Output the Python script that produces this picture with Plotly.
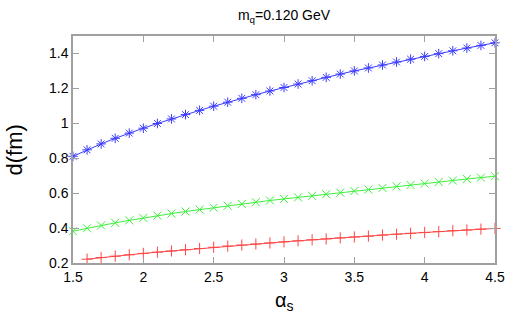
import plotly.graph_objects as go

x_main = [1.5, 1.6, 1.7, 1.8, 1.9, 2.0, 2.1, 2.2, 2.3, 2.4, 2.5, 2.6, 2.7, 2.8, 2.9, 3.0,
          3.1, 3.2, 3.3, 3.4, 3.5, 3.6, 3.7, 3.8, 3.9, 4.0, 4.1, 4.2, 4.3, 4.4, 4.5]
x_red = x_main[1:]

d_blue = [0.811, 0.848, 0.882, 0.914, 0.944, 0.972, 0.999, 1.025, 1.050, 1.074, 1.098,
          1.121, 1.143, 1.164, 1.185, 1.205, 1.225, 1.244, 1.263, 1.282, 1.300,
          1.317, 1.334, 1.351, 1.367, 1.383, 1.399, 1.415, 1.431, 1.446, 1.461]
d_green = [0.382, 0.399, 0.415, 0.430, 0.444, 0.458, 0.471, 0.483, 0.495, 0.506, 0.517,
           0.528, 0.538, 0.548, 0.558, 0.567, 0.576, 0.585, 0.594, 0.603, 0.612,
           0.621, 0.630, 0.639, 0.647, 0.655, 0.664, 0.672, 0.681, 0.689, 0.697]
d_red = [0.222, 0.231, 0.239, 0.247, 0.255, 0.262, 0.269, 0.276, 0.283, 0.290,
         0.297, 0.303, 0.309, 0.315, 0.321, 0.327, 0.333, 0.338, 0.344, 0.349,
         0.354, 0.360, 0.365, 0.370, 0.375, 0.380, 0.385, 0.389, 0.394, 0.398]

x_ticks = [1.5, 2, 2.5, 3, 3.5, 4, 4.5]
x_ticklabels = ["1.5", "2", "2.5", "3", "3.5", "4", "4.5"]
y_ticks = [0.2, 0.4, 0.6, 0.8, 1.0, 1.2, 1.4]
y_ticklabels = ["0.2", "0.4", "0.6", "0.8", "1", "1.2", "1.4"]

fig = go.Figure()
series = [
    (x_red, d_red, "rgb(255,70,70)", "cross-thin-open", 8),
    (x_main, d_green, "rgb(60,240,60)", "x-thin-open", 8),
    (x_main, d_blue, "rgb(60,60,255)", "asterisk-open", 8),
]
for xs, ys, col, sym, sz in series:
    fig.add_trace(go.Scatter(
        x=xs, y=ys, mode="lines+markers",
        line=dict(color=col, width=1),
        marker=dict(symbol=sym, size=sz, color=col, line=dict(color=col, width=1)),
        showlegend=False, cliponaxis=False,
    ))

axis_common = dict(
    showgrid=False, zeroline=False, showline=True, linecolor="#a0a0a0", linewidth=1.5,
    mirror="ticks", ticks="inside", ticklen=6, tickcolor="#a0a0a0", tickwidth=1,
    automargin=False, ticklabeloverflow="allow",
    tickfont=dict(family="Liberation Sans, Arial, sans-serif", size=14, color="black"),
)
fig.update_xaxes(range=[1.5, 4.5], tickvals=x_ticks, ticktext=x_ticklabels, **axis_common)
fig.update_yaxes(range=[0.2, 1.5], tickvals=y_ticks, ticktext=y_ticklabels, **axis_common)

L, R, T, B = 73, 15, 36, 63
PW, PH = 510 - L - R, 326 - T - B

fig.add_annotation(text="d(fm)", xref="paper", yref="paper",
                   x=(13.5 - L) / PW, y=(326 - B - 150) / PH,
                   xanchor="center", yanchor="middle", textangle=-90, showarrow=False,
                   font=dict(family="Liberation Sans, Arial", size=22, color="black"))
fig.add_annotation(text="α<sub>s</sub>", xref="paper", yref="paper",
                   x=(284 - L) / PW, y=(326 - B - 301) / PH,
                   xanchor="center", yanchor="middle", showarrow=False,
                   font=dict(family="Liberation Sans, Arial", size=20, color="black"))

fig.update_layout(
    width=510, height=326,
    margin=dict(l=L, r=R, t=T, b=B),
    plot_bgcolor="white", paper_bgcolor="white",
    title=dict(text="m<sub>q</sub>=0.120 GeV", x=(L + 510 - R) / 2 / 510, xanchor="center",
               y=0.955, yanchor="middle",
               font=dict(family="Liberation Sans, Arial", size=14, color="black")),
)

fig.write_html("out.html", config={"displayModeBar": False},
               post_script="document.body.style.margin='0';document.body.style.overflow='hidden';")
